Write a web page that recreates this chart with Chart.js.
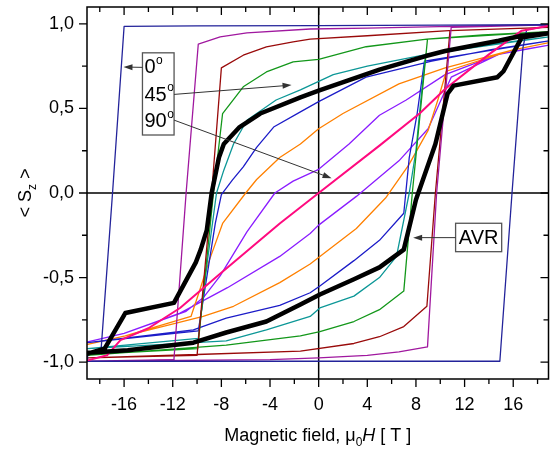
<!DOCTYPE html>
<html>
<head>
<meta charset="utf-8">
<script src="https://cdn.jsdelivr.net/npm/chart.js@4.4.0/dist/chart.umd.min.js"></script>
<style>
	html, body { margin: 0; padding: 0; background: #fff; }
</style>
</head>
<body>
<canvas id="grafica" width="560" height="450"></canvas>
<script>
// ticks
const xMajor = [-16, -12, -8, -4, 0, 4, 8, 12, 16];
const xMinor = [-18, -14, -10, -6, -2, 2, 6, 10, 14, 18];
const yMajor = [-1, -0.5, 0, 0.5, 1];
const yMinor = [-0.75, -0.25, 0.25, 0.75];

// AVR (black)
const blackUpX = [19, 16.7, 14.8, 10.4, 8.8, 5, 0, -1.5, -4.8, -6.5, -7.8, -8.2, -8.8, -9.2, -9.7, -10.1, -11.9, -15.9, -17.6, -19];
const blackUpY = [0.945, 0.93, 0.9, 0.84, 0.81, 0.73, 0.605, 0.565, 0.47, 0.39, 0.29, 0.21, 0.0, -0.22, -0.335, -0.41, -0.65, -0.71, -0.92, -0.95];
const blackLoX = [-19, -15.7, -10.3, -7.6, -4.3, -1.5, 0.1, 2.9, 5.0, 7.0, 8.0, 9.6, 10.6, 11.1, 14.7, 15.2, 16.7, 19];
const blackLoY = [-0.945, -0.93, -0.885, -0.825, -0.76, -0.66, -0.6, -0.51, -0.44, -0.335, -0.04, 0.29, 0.587, 0.635, 0.685, 0.72, 0.92, 0.945];

// 90 deg (pink)
const pinkX = [-19, -17.4, -16.3, -14, -11.4, -8.3, -3.2, 0, 5, 8.3, 10.4, 14, 16.7, 19];
const pinkY = [-0.99, -0.96, -0.87, -0.8, -0.68, -0.49, -0.18, 0, 0.28, 0.47, 0.615, 0.82, 0.96, 0.99];

// 0 deg (navy)
const navyUpX = [19, 10, 0, -10, -16.0, -16.95, -17.9, -19];
const navyUpY = [0.995, 0.993, 0.99, 0.988, 0.985, 0.0, -0.935, -0.95];
const navyLoX = [-19, -10, 0, 10, 14.9, 15.9, 16.8, 17.1, 19];
const navyLoY = [-0.995, -0.995, -0.995, -0.995, -0.995, 0.0, 0.86, 0.965, 0.99];

// purple
const purpleUpX = [19, 10.9, 4, -0.7, -5.9, -8.1, -9.9, -10.9, -11.9, -19];
const purpleUpY = [0.995, 0.985, 0.975, 0.97, 0.947, 0.923, 0.88, 0.0, -0.985, -0.995];
const purpleLoX = [-19, -4, 0, 4, 6.6, 8.95, 9.7, 10.9, 19];
const purpleLoY = [-0.995, -0.985, -0.975, -0.96, -0.94, -0.91, 0.0, 0.98, 0.995];

// brown
const brownUpX = [19, 10.7, 4, -0.7, -2.1, -4.3, -6.2, -8.0, -8.8, -10.0, -19];
const brownUpY = [0.98, 0.96, 0.93, 0.91, 0.894, 0.864, 0.815, 0.74, 0.0, -0.96, -0.975];
const brownLoX = [-19, -10, -1.5, 2.9, 5, 7, 8.9, 9.6, 10.8, 19];
const brownLoY = [-0.975, -0.955, -0.935, -0.89, -0.85, -0.79, -0.67, 0.0, 0.96, 0.98];

// green
const greenUpX = [19, 13.5, 8.9, 3.9, 0, -2.1, -4.3, -6.2, -7.9, -8.65, -9.95, -19];
const greenUpY = [0.955, 0.935, 0.91, 0.865, 0.79, 0.775, 0.716, 0.628, 0.47, 0.0, -0.92, -0.955];
const greenLoX = [-19, -7.6, -1.5, 0.1, 2.9, 5, 7.0, 7.7, 8.95, 19];
const greenLoY = [-0.96, -0.9, -0.845, -0.82, -0.76, -0.69, -0.58, 0.0, 0.91, 0.955];

// teal
const tealUpX = [19, 12, 8.9, 4, 1.2, -1.5, -3.5, -5.9, -7.0, -7.8, -8.4, -9.2, -9.9, -19];
const tealUpY = [0.924, 0.86, 0.82, 0.75, 0.7, 0.61, 0.55, 0.43, 0.29, 0.135, 0.0, -0.43, -0.86, -0.92];
const tealLoX = [-19, -7.6, -4.3, -0.7, 0.1, 2.9, 5.0, 6.4, 7.45, 8.0, 8.4, 8.8, 19];
const tealLoY = [-0.92, -0.875, -0.81, -0.73, -0.68, -0.61, -0.5, -0.375, 0.0, 0.25, 0.55, 0.82, 0.924];

// blue
const blueUpX = [19, 14.3, 9.3, 3.9, 0, -1.5, -3.7, -5.1, -6.2, -7.1, -8.0, -8.5, -9.9, -19];
const blueUpY = [0.9, 0.85, 0.78, 0.685, 0.54, 0.48, 0.39, 0.27, 0.155, 0.076, -0.01, -0.18, -0.815, -0.885];
const blueLoX = [-19, -10.3, -7.6, -3.2, -0.7, 0.1, 2.9, 5.0, 7.0, 7.45, 8.1, 8.7, 19];
const blueLoY = [-0.885, -0.81, -0.74, -0.665, -0.59, -0.55, -0.4, -0.28, -0.12, 0.21, 0.47, 0.78, 0.9];

// orange
const orangeUpX = [19, 15.9, 10.4, 6.6, 2.0, 0, -1.5, -3.2, -5.1, -6.0, -7.9, -9.0, -9.8, -10.5, -15.9, -19];
const orangeUpY = [0.89, 0.845, 0.74, 0.645, 0.47, 0.38, 0.29, 0.21, 0.08, 0.0, -0.18, -0.4, -0.58, -0.73, -0.845, -0.895];
const orangeLoX = [-19, -15.9, -9.5, -7.0, -3.2, -0.7, 0.1, 3.1, 5.5, 7.4, 9.0, 9.8, 10.5, 15.9, 19];
const orangeLoY = [-0.895, -0.845, -0.73, -0.67, -0.53, -0.42, -0.375, -0.21, -0.03, 0.165, 0.37, 0.55, 0.72, 0.845, 0.89];

// violet
const violetUpX = [19, 16.2, 14.8, 10.4, 7.2, 5.0, 2.5, 0, -2.1, -3.6, -5.9, -8.1, -9.5, -10.9, -16, -19];
const violetUpY = [0.875, 0.84, 0.82, 0.7, 0.55, 0.46, 0.29, 0.14, 0.07, 0.0, -0.23, -0.49, -0.62, -0.7, -0.83, -0.88];
const violetLoX = [-19, -16, -11.4, -7.5, -3.2, -0.7, 0, 3.1, 6.6, 9.0, 10.9, 14.8, 19];
const violetLoY = [-0.88, -0.83, -0.71, -0.56, -0.375, -0.24, -0.19, -0.02, 0.19, 0.38, 0.685, 0.82, 0.875];

const fuente = 'Arial, "Liberation Sans", sans-serif';

function puntos(xs, ys) {
	return xs.map((v, i) => ({ x: v, y: ys[i] }));
}

function lazo(upX, upY, loX, loY) {
	return puntos(upX, upY).concat(puntos(loX, loY));
}

function serie(label, data, color, width) {
	return {
		label: label,
		data: data,
		showLine: true,
		borderColor: color,
		borderWidth: width,
		pointRadius: 0,
		fill: false,
		tension: 0,
		borderJoinStyle: 'round',
	};
}

// index 0 is drawn on top
const datasets = [
	serie('AVR', lazo(blackUpX, blackUpY, blackLoX, blackLoY), '#000000', 4.5),
	serie('90', puntos(pinkX, pinkY), '#ff0a7f', 2),
	serie('0', lazo(navyUpX, navyUpY, navyLoX, navyLoY), '#23239a', 1.3),
	serie('p', lazo(purpleUpX, purpleUpY, purpleLoX, purpleLoY), '#a0189f', 1.3),
	serie('b', lazo(brownUpX, brownUpY, brownLoX, brownLoY), '#990a0a', 1.3),
	serie('g', lazo(greenUpX, greenUpY, greenLoX, greenLoY), '#13971a', 1.3),
	serie('t', lazo(tealUpX, tealUpY, tealLoX, tealLoY), '#0c9797', 1.3),
	serie('bl', lazo(blueUpX, blueUpY, blueLoX, blueLoY), '#1c1cc8', 1.3),
	serie('o', lazo(orangeUpX, orangeUpY, orangeLoX, orangeLoY), '#ff8000', 1.3),
	serie('v', lazo(violetUpX, violetUpY, violetLoX, violetLoY), '#8a1cff', 1.3),
];

function flecha(ctx, x1, y1, x2, y2) {
	const ang = Math.atan2(y2 - y1, x2 - x1);
	ctx.beginPath();
	ctx.moveTo(x1, y1);
	ctx.lineTo(x2 - 6 * Math.cos(ang), y2 - 6 * Math.sin(ang));
	ctx.stroke();
	ctx.beginPath();
	ctx.moveTo(x2, y2);
	ctx.lineTo(x2 - 9 * Math.cos(ang) + 3 * Math.sin(ang), y2 - 9 * Math.sin(ang) - 3 * Math.cos(ang));
	ctx.lineTo(x2 - 9 * Math.cos(ang) - 3 * Math.sin(ang), y2 - 9 * Math.sin(ang) + 3 * Math.cos(ang));
	ctx.closePath();
	ctx.fill();
}

function textoGrado(ctx, num, px, py) {
	ctx.font = '20px ' + fuente;
	ctx.textBaseline = 'middle';
	ctx.textAlign = 'left';
	ctx.fillText(num, px, py);
	const w = ctx.measureText(num).width;
	ctx.font = '12px ' + fuente;
	ctx.fillText('o', px + w + 0.5, py - 7);
}

function partes(ctx, lista, cx, cy) {
	let total = 0;
	lista.forEach((p) => {
		ctx.font = p.f;
		total += ctx.measureText(p.t).width;
	});
	let px = cx - total / 2;
	ctx.textAlign = 'left';
	ctx.textBaseline = 'alphabetic';
	lista.forEach((p) => {
		ctx.font = p.f;
		ctx.fillText(p.t, px, cy + (p.dy || 0));
		px += ctx.measureText(p.t).width;
	});
}

const marco = {
	id: 'marco',
	beforeDatasetsDraw(chart) {
		const { ctx, chartArea: a, scales } = chart;
		const x0 = scales.x.getPixelForValue(0);
		const y0 = scales.y.getPixelForValue(0);
		ctx.save();
		ctx.strokeStyle = '#000';
		ctx.lineWidth = 1.5;
		ctx.beginPath();
		ctx.moveTo(x0, a.top);
		ctx.lineTo(x0, a.bottom);
		ctx.moveTo(a.left, y0);
		ctx.lineTo(a.right, y0);
		ctx.stroke();
		ctx.restore();
	},
	afterDatasetsDraw(chart) {
		const { ctx, chartArea: a, scales } = chart;
		const sx = scales.x;
		const sy = scales.y;
		ctx.save();
		ctx.strokeStyle = '#000';
		ctx.lineWidth = 1.5;
		ctx.strokeRect(a.left, a.top, a.right - a.left, a.bottom - a.top);

		ctx.lineWidth = 1.3;
		ctx.beginPath();
		const tickX = (v, len) => {
			const px = sx.getPixelForValue(v);
			ctx.moveTo(px, a.bottom);
			ctx.lineTo(px, a.bottom + len);
			ctx.moveTo(px, a.top);
			ctx.lineTo(px, a.top + len);
		};
		const tickY = (v, len) => {
			const py = sy.getPixelForValue(v);
			ctx.moveTo(a.left - len, py);
			ctx.lineTo(a.left, py);
			ctx.moveTo(a.right, py);
			ctx.lineTo(a.right - len, py);
		};
		xMajor.forEach((v) => tickX(v, 8));
		xMinor.forEach((v) => tickX(v, 5));
		yMajor.forEach((v) => tickY(v, 8));
		yMinor.forEach((v) => tickY(v, 5));
		ctx.stroke();

		// caja 0/45/90
		const bx1 = sx.getPixelForValue(-14.49);
		const bx2 = sx.getPixelForValue(-11.89);
		const by1 = sy.getPixelForValue(0.829);
		const by2 = sy.getPixelForValue(0.343);
		ctx.fillStyle = '#fff';
		ctx.fillRect(bx1, by1, bx2 - bx1, by2 - by1);
		ctx.strokeStyle = '#555';
		ctx.lineWidth = 1.3;
		ctx.strokeRect(bx1, by1, bx2 - bx1, by2 - by1);
		ctx.fillStyle = '#000';
		const tx = sx.getPixelForValue(-14.33);
		textoGrado(ctx, '0', tx, sy.getPixelForValue(0.744));
		textoGrado(ctx, '45', tx, sy.getPixelForValue(0.579));
		textoGrado(ctx, '90', tx, sy.getPixelForValue(0.42));

		ctx.strokeStyle = '#333';
		ctx.fillStyle = '#333';
		ctx.lineWidth = 1;
		flecha(ctx, bx1, sy.getPixelForValue(0.743), sx.getPixelForValue(-16.05), sy.getPixelForValue(0.745));
		flecha(ctx, bx2, sy.getPixelForValue(0.583), sx.getPixelForValue(-2.23), sy.getPixelForValue(0.638));
		flecha(ctx, bx2, sy.getPixelForValue(0.431), sx.getPixelForValue(1.06), sy.getPixelForValue(0.087));

		// caja AVR
		const ax1 = sx.getPixelForValue(11.26);
		const ax2 = sx.getPixelForValue(15.05);
		const ay1 = sy.getPixelForValue(-0.179);
		const ay2 = sy.getPixelForValue(-0.347);
		ctx.fillStyle = '#fff';
		ctx.fillRect(ax1, ay1, ax2 - ax1, ay2 - ay1);
		ctx.strokeStyle = '#555';
		ctx.lineWidth = 1.3;
		ctx.strokeRect(ax1, ay1, ax2 - ax1, ay2 - ay1);
		ctx.fillStyle = '#000';
		ctx.font = '20px ' + fuente;
		ctx.textAlign = 'center';
		ctx.textBaseline = 'middle';
		ctx.fillText('AVR', (ax1 + ax2) / 2, (ay1 + ay2) / 2 + 1);
		ctx.strokeStyle = '#333';
		ctx.fillStyle = '#333';
		ctx.lineWidth = 1;
		const ay = sy.getPixelForValue(-0.264);
		flecha(ctx, ax1, ay, sx.getPixelForValue(7.77), ay);
		ctx.restore();
	},
	afterDraw(chart) {
		const { ctx, chartArea: a } = chart;
		ctx.save();
		ctx.fillStyle = '#000';
		partes(ctx, [
			{ t: 'Magnetic field, \u03bc', f: '18px ' + fuente },
			{ t: '0', f: '12px ' + fuente, dy: 5 },
			{ t: 'H', f: 'italic 18px ' + fuente },
			{ t: ' [ T ]', f: '18px ' + fuente },
		], (a.left + a.right) / 2, 441);

		ctx.translate(31, (a.top + a.bottom) / 2);
		ctx.rotate(-Math.PI / 2);
		partes(ctx, [
			{ t: '< S', f: '18px ' + fuente },
			{ t: 'z', f: '12px ' + fuente, dy: 5 },
			{ t: ' >', f: '18px ' + fuente },
		], 0, 0);
		ctx.restore();
	},
};

const chart = new Chart(document.getElementById('grafica'), {
	type: 'scatter',
	data: { datasets: datasets },
	options: {
		responsive: false,
		animation: false,
		layout: { padding: { top: 7, right: 11.5, left: 0, bottom: 0 } },
		plugins: {
			legend: { display: false },
			tooltip: { enabled: false },
		},
		scales: {
			x: {
				type: 'linear',
				min: -19.05,
				max: 18.9,
				afterBuildTicks: (s) => { s.ticks = xMajor.map((v) => ({ value: v })); },
				afterFit: (s) => {
					s.height = 71;
					s.paddingLeft = 0;
					s.paddingRight = 0;
				},
				grid: { display: false, drawTicks: false },
				border: { display: false },
				ticks: {
					color: '#000',
					font: { family: fuente, size: 18 },
					padding: 15,
					maxRotation: 0,
					autoSkip: false,
					callback: (v) => String(v),
				},
			},
			y: {
				type: 'linear',
				min: -1.1,
				max: 1.1,
				afterBuildTicks: (s) => { s.ticks = yMajor.map((v) => ({ value: v })); },
				afterFit: (s) => {
					s.width = 87;
					s.paddingTop = 0;
					s.paddingBottom = 0;
				},
				grid: { display: false, drawTicks: false },
				border: { display: false },
				ticks: {
					color: '#000',
					font: { family: fuente, size: 18 },
					padding: 13,
					autoSkip: false,
					callback: (v) => v.toFixed(1).replace('.', ','),
				},
			},
		},
	},
	plugins: [marco],
});
</script>
</body>
</html>
